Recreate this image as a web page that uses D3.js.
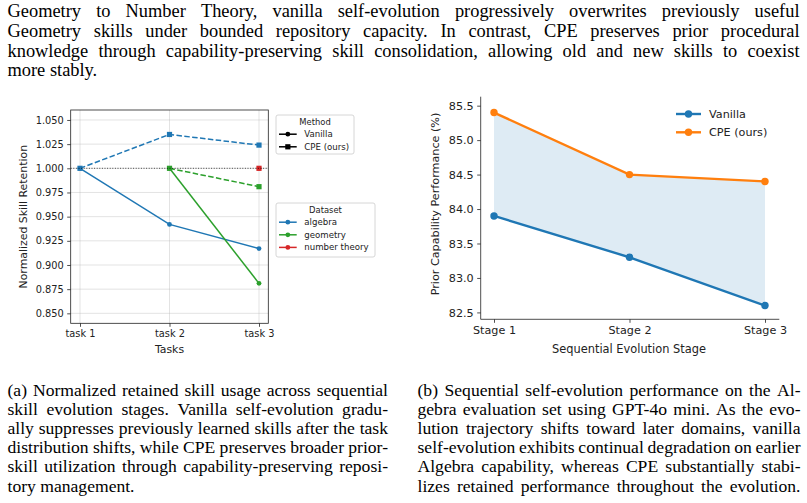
<!DOCTYPE html>
<html>
<head>
<meta charset="utf-8">
<script src="https://cdn.jsdelivr.net/npm/d3@7"></script>
<style>
  body { margin: 0; background: #fff; }
  svg text { font-family: "DejaVu Sans", sans-serif; }
  svg .serif { font-family: "Liberation Serif", "Times New Roman", serif; }
</style>
</head>
<body>
<svg id="fig" width="807" height="503"></svg>
<script>
// ---- text of the page ----
var topLines = [
  "Geometry to Number Theory, vanilla self-evolution progressively overwrites previously useful",
  "Geometry skills under bounded repository capacity.  In contrast, CPE preserves prior procedural",
  "knowledge through capability-preserving skill consolidation, allowing old and new skills to coexist",
  "more stably."
];
var captionA = [
  "(a) Normalized retained skill usage across sequential",
  "skill evolution stages.  Vanilla self-evolution gradu-",
  "ally suppresses previously learned skills after the task",
  "distribution shifts, while CPE preserves broader prior-",
  "skill utilization through capability-preserving reposi-",
  "tory management."
];
var captionB = [
  "(b) Sequential self-evolution performance on the Al-",
  "gebra evaluation set using GPT-4o mini. As the evo-",
  "lution trajectory shifts toward later domains, vanilla",
  "self-evolution exhibits continual degradation on earlier",
  "Algebra capability, whereas CPE substantially stabi-",
  "lizes retained performance throughout the evolution."
];

// ---- chart (a) data ----
var tasks = ["task 1", "task 2", "task 3"];
var yTicksA = [0.850, 0.875, 0.900, 0.925, 0.950, 0.975, 1.000, 1.025, 1.050];
var datasets = ["algebra", "geometry", "number theory"];
var methods = ["Vanilla", "CPE (ours)"];
var vanillaAlgebra  = [1.000, 0.942, 0.917];
var vanillaGeometry = [null, 1.000, 0.881];
var vanillaNumber   = [null, null, 1.000];
var cpeAlgebra      = [1.000, 1.035, 1.024];
var cpeGeometry     = [null, 1.000, 0.981];
var cpeNumber       = [null, null, 1.000];

// ---- chart (b) data ----
var stages = ["Stage 1", "Stage 2", "Stage 3"];
var yTicksB = [82.5, 83.0, 83.5, 84.0, 84.5, 85.0, 85.5];
var vanillaPerf = [83.9, 83.3, 82.6];
var cpePerf = [85.4, 84.5, 84.4];

var svg = d3.select("#fig");
svg.append("rect").attr("width", 807).attr("height", 503).attr("fill", "#fff");

// justified serif paragraph, one line per entry
function paragraph(lines, x0, x1, y0, dy, size, justifyLast) {
  lines.forEach(function (line, i) {
    var g = svg.append("g").attr("transform", "translate(" + x0 + "," + (y0 + i * dy) + ")");
    var t = g.append("text").attr("class", "serif").attr("font-size", size).attr("fill", "#000");
    var last = (i == lines.length - 1) && !justifyLast;
    if (last) { t.text(line); return; }
    var words = line.split(/\s+/);
    var spans = words.map(function (w) { return t.append("tspan").text(w); });
    var widths = spans.map(function (s) { return s.node().getComputedTextLength(); });
    var W = x1 - x0, minGap = 0.2 * size, k = 1;
    var gap = (W - d3.sum(widths)) / (words.length - 1);
    if (gap < minGap) {
      // squeeze the glyphs a little when the line is too long
      k = (W - minGap * (words.length - 1)) / d3.sum(widths);
      gap = minGap / k;
      g.attr("transform", "translate(" + x0 + "," + (y0 + i * dy) + ") scale(" + k + ",1)");
    }
    var x = 0;
    spans.forEach(function (s, j) { s.attr("x", x); x += widths[j] + gap; });
  });
}

paragraph(topLines, 7.5, 799.5, 17, 19.8, 18.4, false);
paragraph(captionA, 7.5, 388, 395.5, 19.2, 17.6, false);
paragraph(captionB, 417.5, 800.5, 395.5, 19.2, 17.6, true);

// ================= chart (a) =================
var A = {left: 70.7, right: 268.3, top: 110, bottom: 323.3};
var xA = d3.scalePoint().domain(tasks).range([80, 259]);
var yA = d3.scaleLinear().domain([0.8397, 1.0603]).range([A.bottom, A.top]);
var ga = svg.append("g");

// grid
ga.selectAll(".gy").data(yTicksA).enter().append("line")
  .attr("x1", A.left).attr("x2", A.right)
  .attr("y1", function (d) { return yA(d); }).attr("y2", function (d) { return yA(d); })
  .attr("stroke", "#b0b0b0").attr("stroke-opacity", 0.45).attr("stroke-width", 0.8);
ga.selectAll(".gx").data(tasks).enter().append("line")
  .attr("y1", A.top).attr("y2", A.bottom)
  .attr("x1", function (d) { return xA(d); }).attr("x2", function (d) { return xA(d); })
  .attr("stroke", "#b0b0b0").attr("stroke-opacity", 0.45).attr("stroke-width", 0.8);

var axLeftA = ga.append("g").attr("transform", "translate(" + A.left + ",0)")
  .call(d3.axisLeft(yA).tickValues(yTicksA).tickFormat(d3.format(".3f")).tickSize(3.5).tickPadding(3.5));
var axBotA = ga.append("g").attr("transform", "translate(0," + A.bottom + ")")
  .call(d3.axisBottom(xA).tickSize(3.5).tickPadding(3.5));
[axLeftA, axBotA].forEach(function (ax) {
  ax.select(".domain").remove();
  ax.attr("font-size", 9.8).attr("font-family", "DejaVu Sans");
  ax.selectAll("text").attr("fill", "#222");
  ax.selectAll("line").attr("stroke", "#222").attr("stroke-width", 0.8);
});

ga.append("text").attr("x", (A.left + A.right) / 2).attr("y", 353).attr("text-anchor", "middle")
  .attr("font-size", 10.9).attr("fill", "#222").text("Tasks");
ga.append("text").attr("transform", "translate(27," + 216.7 + ") rotate(-90)").attr("text-anchor", "middle")
  .attr("font-size", 10.9).attr("fill", "#222").text("Normalized Skill Retention");

var colors = {"algebra": "#1f77b4", "geometry": "#2ca02c", "number theory": "#d62728"};
var seriesA = [
  {vals: vanillaAlgebra, ds: "algebra", cpe: false},
  {vals: cpeAlgebra, ds: "algebra", cpe: true},
  {vals: vanillaGeometry, ds: "geometry", cpe: false},
  {vals: cpeGeometry, ds: "geometry", cpe: true},
  {vals: vanillaNumber, ds: "number theory", cpe: false},
  {vals: cpeNumber, ds: "number theory", cpe: true}
];
var lineA = d3.line().x(function (d) { return xA(d.x); }).y(function (d) { return yA(d.y); });

seriesA.forEach(function (s) {
  var pts = [];
  s.vals.forEach(function (v, i) { if (v != null) pts.push({x: tasks[i], y: v}); });
  var c = colors[s.ds];
  if (pts.length > 1) {
    ga.append("path").datum(pts).attr("d", lineA).attr("fill", "none")
      .attr("stroke", c).attr("stroke-width", 1.5)
      .attr("stroke-dasharray", s.cpe ? "5.5,2.4" : null);
  }
  if (s.cpe) {
    ga.selectAll(null).data(pts).enter().append("rect")
      .attr("x", function (d) { return xA(d.x) - 2.6; }).attr("y", function (d) { return yA(d.y) - 2.6; })
      .attr("width", 5.2).attr("height", 5.2).attr("fill", c);
  } else {
    ga.selectAll(null).data(pts).enter().append("circle")
      .attr("cx", function (d) { return xA(d.x); }).attr("cy", function (d) { return yA(d.y); })
      .attr("r", 2.4).attr("fill", c);
  }
});

// reference line at 1.0
ga.append("line").attr("x1", A.left).attr("x2", A.right).attr("y1", yA(1)).attr("y2", yA(1))
  .attr("stroke", "#000").attr("stroke-width", 0.9).attr("stroke-dasharray", "1,1.6").attr("stroke-opacity", 0.8);

ga.append("rect").attr("x", A.left).attr("y", A.top).attr("width", A.right - A.left).attr("height", A.bottom - A.top)
  .attr("fill", "none").attr("stroke", "#222").attr("stroke-width", 0.8);

// legends of (a)
function legendBox(x, y, w, h, title, items) {
  var g = svg.append("g");
  g.append("rect").attr("x", x).attr("y", y).attr("width", w).attr("height", h).attr("rx", 2)
    .attr("fill", "#fff").attr("fill-opacity", 0.8).attr("stroke", "#ccc").attr("stroke-width", 0.8);
  g.append("text").attr("x", x + w / 2).attr("y", y + 9.5).attr("text-anchor", "middle")
    .attr("font-size", 8.4).attr("fill", "#222").text(title);
  items.forEach(function (it, i) {
    var cy = y + 19.2 + i * 12.6;
    g.append("line").attr("x1", x + 3).attr("x2", x + 20.7).attr("y1", cy).attr("y2", cy)
      .attr("stroke", it.color).attr("stroke-width", 1.5);
    if (it.square) {
      g.append("rect").attr("x", x + 11.85 - 2.6).attr("y", cy - 2.6).attr("width", 5.2).attr("height", 5.2).attr("fill", it.color);
    } else {
      g.append("circle").attr("cx", x + 11.85).attr("cy", cy).attr("r", 2.4).attr("fill", it.color);
    }
    g.append("text").attr("x", x + 28.3).attr("y", cy + 3).attr("font-size", 8.6).attr("fill", "#222").text(it.label);
  });
}
legendBox(276, 115, 78, 39, "Method", methods.map(function (m, i) { return {label: m, color: "#000", square: i == 1}; }));
legendBox(276, 203, 99, 54, "Dataset", datasets.map(function (d) { return {label: d, color: colors[d], square: false}; }));

// ================= chart (b) =================
var B = {left: 480.7, right: 779.3, top: 96.7, bottom: 319.3};
var xB = d3.scalePoint().domain(stages).range([494, 765]);
var yB = d3.scaleLinear().domain([82.40, 85.63]).range([B.bottom, B.top]);
var gb = svg.append("g");

var area = d3.area().x(function (d, i) { return xB(stages[i]); })
  .y0(function (d) { return yB(d[0]); }).y1(function (d) { return yB(d[1]); });
gb.append("path").datum(d3.zip(vanillaPerf, cpePerf)).attr("d", area)
  .attr("fill", "#1f77b4").attr("fill-opacity", 0.15);

var axLeftB = gb.append("g").attr("transform", "translate(" + B.left + ",0)")
  .call(d3.axisLeft(yB).tickValues(yTicksB).tickFormat(d3.format(".1f")).tickSize(3.5).tickPadding(3.5));
var axBotB = gb.append("g").attr("transform", "translate(0," + B.bottom + ")")
  .call(d3.axisBottom(xB).tickSize(3.5).tickPadding(3.5));
[axLeftB, axBotB].forEach(function (ax) {
  ax.select(".domain").remove();
  ax.attr("font-size", 11.2).attr("font-family", "DejaVu Sans");
  ax.selectAll("text").attr("fill", "#222");
  ax.selectAll("line").attr("stroke", "#222").attr("stroke-width", 0.8);
});
gb.append("line").attr("x1", B.left).attr("x2", B.left).attr("y1", B.top).attr("y2", B.bottom).attr("stroke", "#222").attr("stroke-width", 0.8);
gb.append("line").attr("x1", B.left).attr("x2", B.right).attr("y1", B.bottom).attr("y2", B.bottom).attr("stroke", "#222").attr("stroke-width", 0.8);

gb.append("text").attr("x", 629).attr("y", 352.5).attr("text-anchor", "middle")
  .attr("font-size", 11.4).attr("fill", "#222").text("Sequential Evolution Stage");
gb.append("text").attr("transform", "translate(439,204) rotate(-90)").attr("text-anchor", "middle")
  .attr("font-size", 11.2).attr("fill", "#222").text("Prior Capability Performance (%)");

var seriesB = [{label: "Vanilla", vals: vanillaPerf, color: "#1f77b4"}, {label: "CPE (ours)", vals: cpePerf, color: "#ff7f0e"}];
var lineB = d3.line().x(function (d, i) { return xB(stages[i]); }).y(function (d) { return yB(d); });
seriesB.forEach(function (s, k) {
  gb.append("path").datum(s.vals).attr("d", lineB).attr("fill", "none").attr("stroke", s.color).attr("stroke-width", 2.4);
  gb.selectAll(null).data(s.vals).enter().append("circle")
    .attr("cx", function (d, i) { return xB(stages[i]); }).attr("cy", function (d) { return yB(d); })
    .attr("r", 3.7).attr("fill", s.color);
  var ly = 114 + k * 18.3;
  gb.append("line").attr("x1", 676).attr("x2", 701).attr("y1", ly).attr("y2", ly).attr("stroke", s.color).attr("stroke-width", 2.4);
  gb.append("circle").attr("cx", 688.5).attr("cy", ly).attr("r", 3.7).attr("fill", s.color);
  gb.append("text").attr("x", 709).attr("y", ly + 4).attr("font-size", 11.2).attr("fill", "#222").text(s.label);
});
</script>
</body>
</html>
